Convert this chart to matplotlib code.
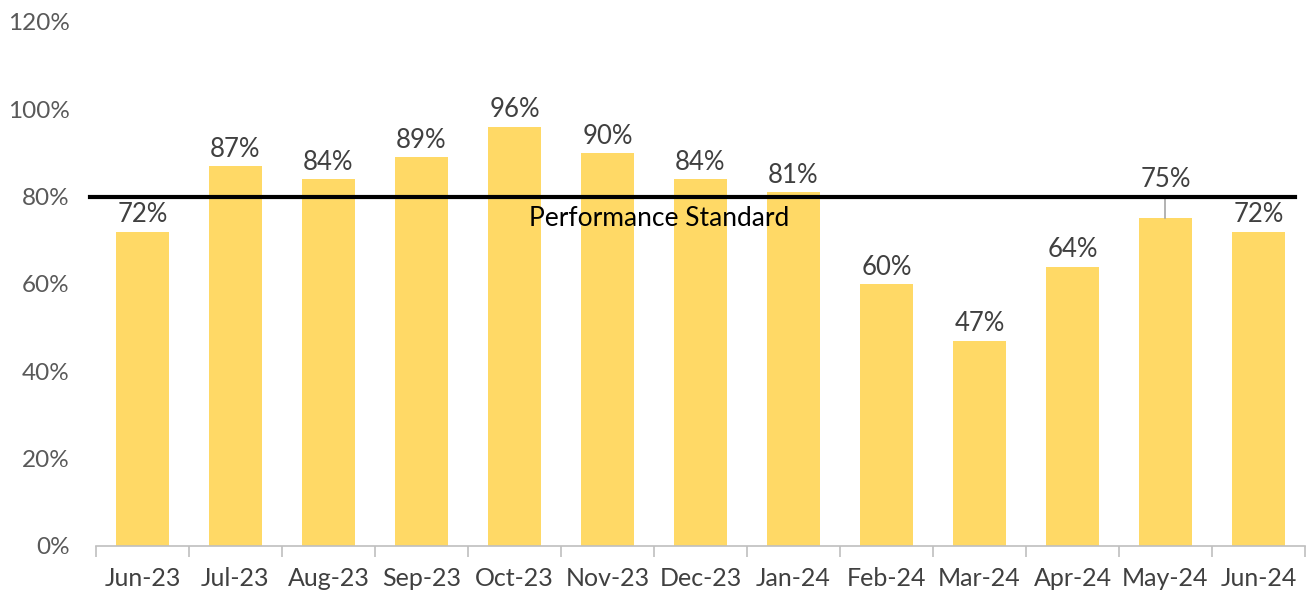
import matplotlib.pyplot as plt
from matplotlib.ticker import FixedLocator, PercentFormatter
import numpy as np

months = ['Jun-23', 'Jul-23', 'Aug-23', 'Sep-23', 'Oct-23', 'Nov-23', 'Dec-23',
          'Jan-24', 'Feb-24', 'Mar-24', 'Apr-24', 'May-24', 'Jun-24']
rates = [72, 87, 84, 89, 96, 90, 84, 81, 60, 47, 64, 75, 72]
standard = 80
standard_label = 'Performance Standard'

plt.rcParams['font.family'] = ['Lato', 'DejaVu Sans']

fig = plt.figure(figsize=(13.13, 5.96), dpi=100)
ax = fig.add_axes([0.0731, 0.0839, 0.9208, 0.8792])

x = np.arange(len(months))
bars = ax.bar(x, rates, width=0.58, color='#FFD966')

for i, (xi, r) in enumerate(zip(x, rates)):
    y = r
    if i == 11:
        # this label sits above the standard line, with a leader line
        y = standard
        ax.plot([xi, xi], [r, standard], color='#A6A6A6', lw=1.2)
    ax.text(xi, y + 1.0, f'{r}%', ha='center', va='bottom', fontsize=18.5, color='#404040')

ax.axhline(standard, xmin=-0.005, xmax=0.992, color='black', lw=3, clip_on=False)
ax.text(5.55, 75.0, standard_label, ha='center', va='center', fontsize=19, color='black')

ax.set_xlim(-0.5, len(months) - 0.5)
ax.set_ylim(0, 120)
ax.set_yticks(np.arange(0, 121, 20))
ax.yaxis.set_major_formatter(PercentFormatter(decimals=0))
ax.set_xticks(x)
ax.set_xticklabels(months)
ax.xaxis.set_minor_locator(FixedLocator(np.arange(-0.5, len(months), 1)))

for s in ['top', 'right', 'left']:
    ax.spines[s].set_visible(False)
ax.spines['bottom'].set_color('#BFBFBF')
ax.spines['bottom'].set_linewidth(1.2)

ax.tick_params(axis='y', length=0, labelsize=17.5, labelcolor='#595959', pad=19)
ax.tick_params(axis='x', which='major', length=0, labelsize=18, labelcolor='#404040', pad=15)
ax.tick_params(axis='x', which='minor', length=8, color='#BFBFBF', width=1.2)

fig.savefig('out.png', dpi=100)
